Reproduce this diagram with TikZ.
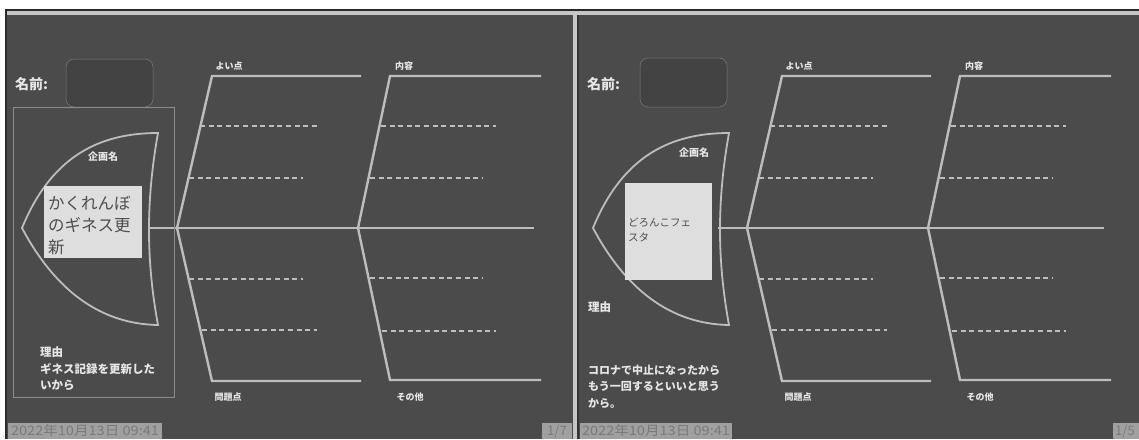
\documentclass[tikz,border=0pt]{standalone}
\usepackage{fontspec}
\newfontfamily\jp{Noto Sans CJK JP}
\definecolor{panelbg}{HTML}{4B4B4B}
\definecolor{bonegray}{HTML}{BDBDBD}
\definecolor{edgelight}{HTML}{C6C6C6}
\definecolor{edgedark}{HTML}{2A2A2A}
\definecolor{txtwhite}{HTML}{E6E6E6}
\definecolor{boxfill}{HTML}{DDDEDD}
\definecolor{boxtext}{HTML}{4E4E4E}
\definecolor{namefill}{HTML}{434343}
\definecolor{nameedge}{HTML}{7C7C7C}
\definecolor{framegray}{HTML}{8C8C8C}
\definecolor{stampfill}{HTML}{A0A0A0}
\definecolor{stamptext}{HTML}{7A7A7A}
\tikzset{
  bone/.style={draw=bonegray, line width=2.4pt, line join=miter},
  dashbone/.style={draw=bonegray, line width=2pt, dash pattern=on 5pt off 3.6pt},
  headline/.style={draw=bonegray, line width=1.8pt},
  bonelabel/.style={text=txtwhite, font=\jp\bfseries\fontsize{9}{10}\selectfont, inner sep=0pt},
  headlabel/.style={text=txtwhite, font=\jp\bfseries\fontsize{10}{11}\selectfont, inner sep=0pt},
  namelabel/.style={text=txtwhite, font=\jp\bfseries\fontsize{14}{15}\selectfont, inner sep=0pt, anchor=west},
  namebox/.style={draw=nameedge, line width=0.5pt, fill=namefill, rounded corners=8pt},
  titlebox/.style={fill=boxfill, draw=none},
  reasontext/.style={text=txtwhite, font=\jp\bfseries\fontsize{11.5}{16.5}\selectfont, inner sep=0pt, anchor=west, align=left},
  stampbox/.style={fill=stampfill, draw=none},
  stamptxt/.style={text=stamptext, font=\jp\fontsize{13}{14}\selectfont, inner sep=0pt},
}
\begin{document}
\begin{tikzpicture}[x=1pt,y=-1pt]
\useasboundingbox (0,0) rectangle (1139,439);
% page background
\fill[white] (0,0) rectangle (1139,439);
\fill[panelbg] (5,9) rectangle (1139,439);
% frame edges
\fill[edgedark] (5,9) rectangle (1139,11);
\fill[edgelight] (7,11) rectangle (1139,15);
\fill[edgedark] (5,9) rectangle (7,439);
\fill[edgelight] (573,11) rectangle (577,439);
\fill[edgedark!70!panelbg] (577,15) rectangle (579,439);

% ---------- fishbone skeletons (left and right) ----------
\foreach \dx/\p in {0/L,570/R}{
\begin{scope}[xshift=\dx pt]
  \coordinate (\p s0) at (148,228);
  \coordinate (\p s1) at (534,228);
  \coordinate (\p j1) at (177,228);
  \coordinate (\p t1) at (212,76);
  \coordinate (\p t1e) at (361,76);
  \coordinate (\p b1) at (212,381);
  \coordinate (\p b1e) at (361,381);
  \coordinate (\p j2) at (358,228);
  \coordinate (\p t2) at (390,76);
  \coordinate (\p t2e) at (541,76);
  \coordinate (\p b2) at (390,380);
  \coordinate (\p b2e) at (541,380);
  \draw[bone] (\p s0) -- (\p s1);
  \draw[bone] (\p j1) -- (\p t1) -- (\p t1e);
  \draw[bone] (\p j1) -- (\p b1) -- (\p b1e);
  \draw[bone] (\p j2) -- (\p t2) -- (\p t2e);
  \draw[bone] (\p j2) -- (\p b2) -- (\p b2e);
  % dashed sub-bones
  \coordinate (\p d1a) at (200,126); \coordinate (\p d1b) at (317,126);
  \coordinate (\p d2a) at (189,178); \coordinate (\p d2b) at (303,178);
  \coordinate (\p d3a) at (189,279); \coordinate (\p d3b) at (303,279);
  \coordinate (\p d4a) at (202,330); \coordinate (\p d4b) at (317,330);
  \coordinate (\p e1a) at (381,126); \coordinate (\p e1b) at (496,126);
  \coordinate (\p e2a) at (370,178); \coordinate (\p e2b) at (482,178);
  \coordinate (\p e3a) at (370,278); \coordinate (\p e3b) at (482,278);
  \coordinate (\p e4a) at (382,331); \coordinate (\p e4b) at (496,331);
  \foreach \q in {d1,d2,d3,d4,e1,e2,e3,e4}{
    \draw[dashbone] (\p\q a) -- (\p\q b);
  }
  \node[bonelabel] (\p good) at (229,66) {よい点};
  \node[bonelabel] (\p cont) at (404,66) {内容};
  \node[bonelabel] (\p prob) at (228,397) {問題点};
  \node[bonelabel] (\p other) at (410,397) {その他};
\end{scope}
}

% ---------- fish heads ----------
\foreach \dx/\p in {0/L,571/R}{
\begin{scope}[xshift=\dx pt]
  \draw[headline] (158,133) .. controls (95,133) and (50,160) .. (22,228)
        .. controls (55,290) and (100,324) .. (158,325)
        .. controls (146,260) and (146,200) .. cycle;
\end{scope}
}

% ---------- left panel ----------
\node[namelabel] (Lname) at (15,84) {名前:};
\draw[namebox] (66,59) rectangle (153,107);
\draw[framegray, line width=0.6pt] (13,107) rectangle (174,397);
\node[headlabel] (Lplan) at (103,157) {企画名};
\fill[titlebox] (44,186) rectangle (142,258);
\node[text=boxtext, font=\jp\fontsize{16.5}{22}\selectfont, inner sep=0pt, anchor=west, align=left] (Ltitle) at (48,225) {かくれんぼ\\のギネス更\\新};
\node[reasontext] (Lreason) at (40,369) {理由\\ギネス記録を更新した\\いから};
\fill[stampbox] (8,423) rectangle (162,439);
\node[stamptxt] (Ldate) at (85,431) {\scalebox{1.12}[1]{2022年10月13日 09:41}};
\fill[stampbox] (542,423) rectangle (572,439);
\node[stamptxt] (Lpage) at (557,431) {1/7};

% ---------- right panel ----------
\node[namelabel] (Rname) at (587,84) {名前:};
\draw[namebox] (640,58) rectangle (727,107);
\node[headlabel] (Rplan) at (694,152.5) {企画名};
\fill[titlebox] (625,183) rectangle (712,280);
\node[text=boxtext, font=\jp\fontsize{10.5}{15}\selectfont, inner sep=0pt, anchor=west, align=left] (Rtitle) at (628,230) {どろんこフェ\\スタ};
\node[reasontext] (Rwhy) at (588,307) {理由};
\node[reasontext, font=\jp\bfseries\fontsize{11}{16.5}\selectfont] (Rreason) at (588,386.5) {コロナで中止になったから\\もう一回するといいと思う\\から。};
\fill[stampbox] (580,423) rectangle (732,439);
\node[stamptxt] (Rdate) at (656,431) {\scalebox{1.12}[1]{2022年10月13日 09:41}};
\fill[stampbox] (1113,423) rectangle (1139,439);
\node[stamptxt, anchor=west] (Rpage) at (1115,431) {1/5};
\end{tikzpicture}
\end{document}
